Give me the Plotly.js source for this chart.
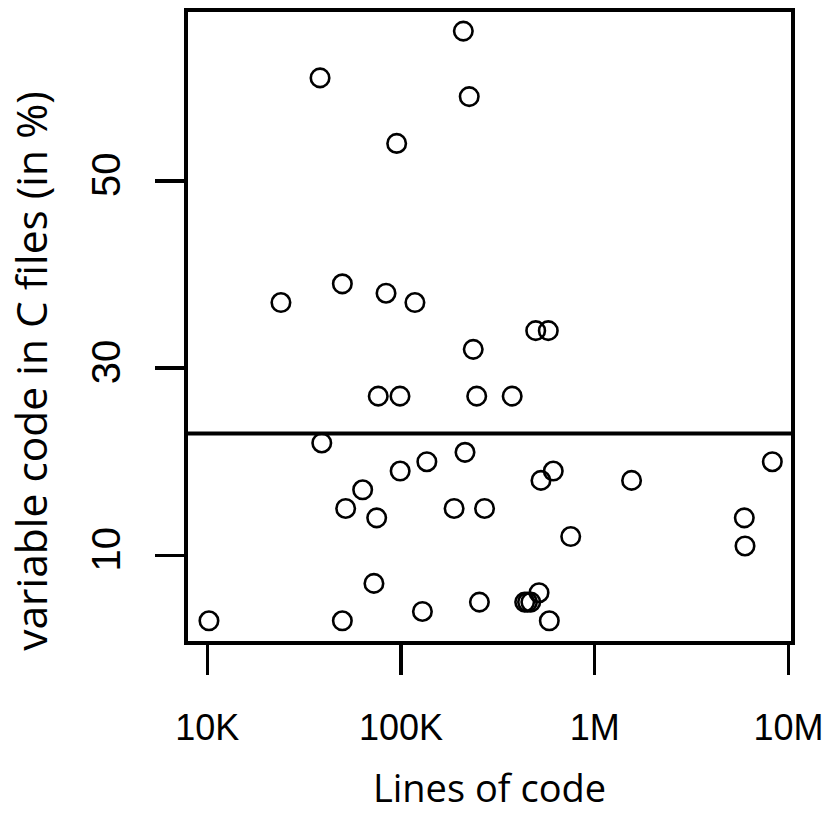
<!DOCTYPE html>
<html>
<head>
<meta charset="utf-8">
<script src="https://cdn.plot.ly/plotly-3.0.1.min.js"></script>
<style>
  html, body { margin: 0; padding: 0; background: #fff; }
  #chart { width: 834px; height: 813px; }
</style>
</head>
<body>
<div id="chart"></div>
<script>
// Lines of code per project (x) and share of variable code in C files, % (y)
const linesOfCode = [
  209800, 38200, 225000, 95000, 24000, 49800, 83700, 118000, 496000, 576000,
  236000, 76300, 98800, 246000, 375000,
  39000, 214000, 136000, 99000, 611000, 528000, 1550000, 8260000, 63400, 51800,
  74900, 188000, 270000, 752000, 5920000, 5970000, 72500, 516000, 435000, 450000,
  468000, 254000, 129000, 10200, 49800, 583000
];
const variablePct = [
  66, 61, 59, 54, 37, 39, 38, 37, 34, 34,
  32, 27, 27, 27, 27,
  22, 21, 20, 19, 19, 18, 18, 20, 17, 15,
  14, 15, 15, 12, 14, 11, 7, 6, 5, 5,
  5, 5, 4, 3, 3, 3
];
const xTickVals = [1e4, 1e5, 1e6, 1e7];
const xTickText = ['10K', '100K', '1M', '10M'];
const yTickVals = [10, 30, 50];
const thresholdPct = [23];

const ARIAL = "Liberation Sans";
const HUMANIST = "Open Sans";

const trace = {
  type: 'scatter',
  mode: 'markers',
  x: linesOfCode,
  y: variablePct,
  marker: {
    symbol: 'circle-open',
    size: 18.5,
    color: '#000',
    line: { width: 2.6, color: '#000' }
  },
  hoverinfo: 'x+y',
  showlegend: false
};

const layout = {
  width: 834,
  height: 813,
  margin: { l: 188, r: 43, t: 12, b: 172 },
  paper_bgcolor: '#fff',
  plot_bgcolor: '#fff',
  showlegend: false,
  xaxis: {
    type: 'log',
    range: [3.9004, 7.0134],
    tickvals: xTickVals,
    ticktext: xTickText,
    ticks: 'outside',
    ticklen: 30,
    tickwidth: 3.5,
    tickcolor: '#000',
    showline: true,
    linewidth: 4,
    linecolor: '#000',
    mirror: true,
    showgrid: false,
    zeroline: false,
    ticklabelstandoff: 22,
    tickfont: { family: ARIAL, size: 36, color: '#000' },
    title: {
      text: 'Lines of code',
      standoff: 35,
      font: { family: HUMANIST, size: 38, color: '#000' }
    }
  },
  yaxis: {
    range: [0.844, 68.04],
    tickvals: yTickVals,
    ticktext: yTickVals.map(String),
    tickangle: -90,
    ticks: 'outside',
    ticklen: 29,
    tickwidth: 3.5,
    tickcolor: '#000',
    showline: true,
    linewidth: 4,
    linecolor: '#000',
    mirror: true,
    showgrid: false,
    zeroline: false,
    ticklabelstandoff: 19,
    tickfont: { family: ARIAL, size: 40, color: '#000' }
  },
  shapes: thresholdPct.map(v => ({
    type: 'line',
    xref: 'paper', x0: 0, x1: 1,
    yref: 'y', y0: v, y1: v,
    line: { color: '#000', width: 4 }
  })),
  annotations: [{
    text: 'variable code in C files (in %)',
    xref: 'paper', yref: 'paper',
    x: -0.261, y: 0.429,
    xanchor: 'center', yanchor: 'middle',
    textangle: -90,
    showarrow: false,
    font: { family: HUMANIST, size: 42.5, color: '#000' }
  }]
};

Plotly.newPlot('chart', [trace], layout, { displayModeBar: false, staticPlot: true });
</script>
</body>
</html>
